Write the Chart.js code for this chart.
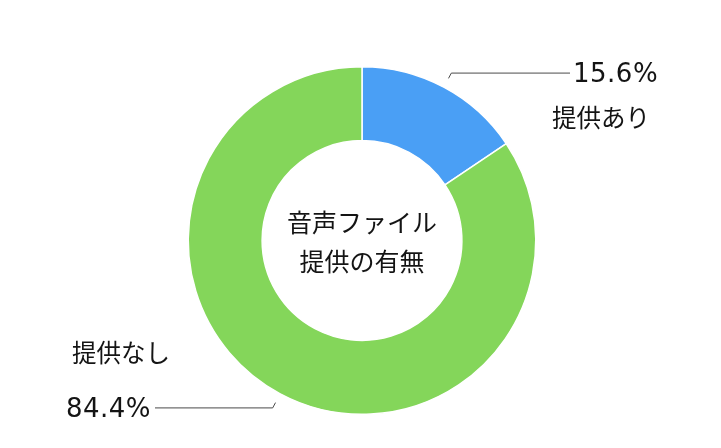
<!DOCTYPE html>
<html>
<head>
<meta charset="utf-8">
<script src="https://cdn.jsdelivr.net/npm/chart.js@4.4.0/dist/chart.umd.min.js"></script>
<style>
	html, body { margin: 0; padding: 0; background: #ffffff; }
	#wrap { width: 721px; height: 448px; }
</style>
</head>
<body>
<div id="wrap"><canvas id="voice_chart"></canvas></div>
<script>
const category_labels = ["提供あり", "提供なし"];
const share_values = [15.6, 84.4];
const slice_colors = ["#4a9ff5", "#84d65a"];
const center_lines = ["音声ファイル", "提供の有無"];

const font_family = "'Noto Sans CJK JP', 'Noto Sans', sans-serif";
const number_font = "'DejaVu Sans', sans-serif";

// where each outside label goes: side of the horizontal leader, end x of the leader
const label_sides = [
	{ side: "right", line_end: 570, pct_y: 75, name_y: 118, name_x: 601 },
	{ side: "left", line_end: 155, pct_y: 410, name_y: 353, name_x: 121 },
];

const center_text_plugin = {
	id: "center_text",
	afterDraw(chart) {
		const ctx = chart.ctx;
		const arc = chart.getDatasetMeta(0).data[0];
		ctx.save();
		ctx.fillStyle = "#141414";
		ctx.font = `25px ${font_family}`;
		ctx.textAlign = "center";
		ctx.textBaseline = "middle";
		ctx.fillText(center_lines[0], arc.x, arc.y - 18);
		ctx.fillText(center_lines[1], arc.x, arc.y + 21);
		ctx.restore();
	},
};

const outside_label_plugin = {
	id: "outside_labels",
	afterDraw(chart) {
		const ctx = chart.ctx;
		const meta = chart.getDatasetMeta(0);
		ctx.save();
		meta.data.forEach(function (arc, i) {
			const mid = (arc.startAngle + arc.endAngle) / 2;
			const r0 = arc.outerRadius + 10;
			const r1 = arc.outerRadius + 16;
			const x0 = arc.x + Math.cos(mid) * r0;
			const y0 = arc.y + Math.sin(mid) * r0;
			const x1 = arc.x + Math.cos(mid) * r1;
			const y1 = arc.y + Math.sin(mid) * r1;
			const cfg = label_sides[i];

			ctx.strokeStyle = "#4a4a4a";
			ctx.lineWidth = 1;
			ctx.beginPath();
			ctx.moveTo(x0, y0);
			ctx.lineTo(x1, y1);
			ctx.lineTo(cfg.line_end, y1);
			ctx.stroke();

			ctx.fillStyle = "#141414";
			ctx.textBaseline = "middle";
			ctx.font = `26px ${number_font}`;
			ctx.letterSpacing = "0.5px";
			const pct = share_values[i].toFixed(1) + "%";
			if (cfg.side == "right") {
				ctx.textAlign = "left";
				ctx.fillText(pct, cfg.line_end + 3, cfg.pct_y);
			} else {
				ctx.textAlign = "right";
				ctx.fillText(pct, cfg.line_end - 4, cfg.pct_y);
			}
			ctx.letterSpacing = "0px";
			ctx.font = `24.5px ${font_family}`;
			ctx.textAlign = "center";
			ctx.fillText(category_labels[i], cfg.name_x, cfg.name_y);
		});
		ctx.restore();
	},
};

var ctx = document.getElementById("voice_chart").getContext("2d");

var voiceChart = new Chart(ctx, {
	type: "doughnut",
	data: {
		labels: category_labels,
		datasets: [
			{
				data: share_values,
				backgroundColor: slice_colors,
				borderColor: "#ffffff",
				borderWidth: 1.5,
			},
		],
	},
	options: {
		responsive: true,
		maintainAspectRatio: false,
		animation: false,
		cutout: "57.5%",
		layout: {
			padding: { top: 66, bottom: 33, left: 3, right: 0 },
		},
		plugins: {
			legend: { display: false },
			tooltip: { enabled: false },
		},
	},
	plugins: [center_text_plugin, outside_label_plugin],
});
</script>
</body>
</html>
